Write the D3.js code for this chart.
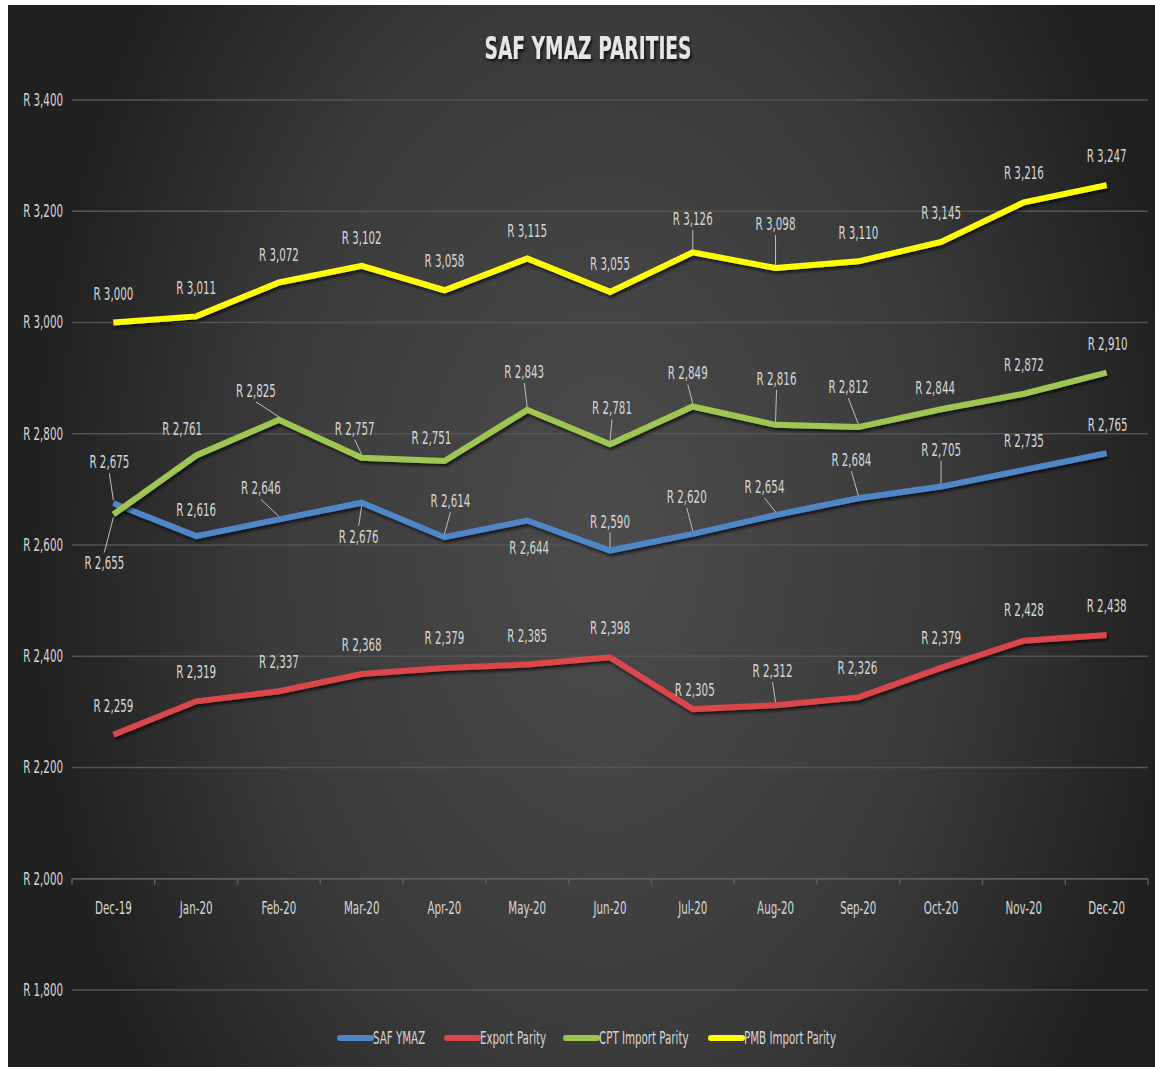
<!DOCTYPE html>
<html>
<head>
<meta charset="utf-8">
<script src="https://cdn.jsdelivr.net/npm/d3@7"></script>
<style>
  html, body { margin: 0; padding: 0; background: #ffffff; }
  svg { display: block; }
  text { font-family: "Liberation Sans Narrow", "Arial Narrow", "DejaVu Sans Condensed", "Roboto Condensed", sans-serif; }
</style>
</head>
<body>
<svg id="chart" width="1155" height="1070"></svg>
<script>
// ---------- DATA ----------
const categories = ["Dec-19","Jan-20","Feb-20","Mar-20","Apr-20","May-20","Jun-20","Jul-20","Aug-20","Sep-20","Oct-20","Nov-20","Dec-20"];
const safYmaz      = [2675, 2616, 2646, 2676, 2614, 2644, 2590, 2620, 2654, 2684, 2705, 2735, 2765];
const exportParity = [2259, 2319, 2337, 2368, 2379, 2385, 2398, 2305, 2312, 2326, 2379, 2428, 2438];
const cptImport    = [2655, 2761, 2825, 2757, 2751, 2843, 2781, 2849, 2816, 2812, 2844, 2872, 2910];
const pmbImport    = [3000, 3011, 3072, 3102, 3058, 3115, 3055, 3126, 3098, 3110, 3145, 3216, 3247];
const seriesNames  = ["SAF YMAZ", "Export Parity", "CPT Import Parity", "PMB Import Parity"];
const yTicks       = [1800, 2000, 2200, 2400, 2600, 2800, 3000, 3200, 3400];
const title        = "SAF YMAZ PARITIES";

// ---------- STYLE / LAYOUT (not data) ----------
const colors = ["#4f86c6", "#d9464c", "#9fc553", "#ffff00"];
// label nudges relative to point [dx, dy, leader?]
const labelNudge = [
  [[-4,-41,1],[0,-26,0],[-18,-31,1],[-3,34,1],[6,-36,1],[2,27,0],[0,-29,1],[-6,-37,1],[-11,-28,1],[-7,-38,1],[0,-37,1],[0,-29,0],[1,-28,0]],
  [[0,-29,0],[0,-29,0],[0,-29,0],[0,-29,0],[0,-30,0],[0,-29,0],[0,-29,0],[2,-19,0],[-3,-34,1],[-1,-29,0],[0,-30,0],[0,-31,0],[0,-29,0]],
  [[-9,49,1],[-14,-26,0],[-23,-29,1],[-7,-29,1],[-13,-23,0],[-3,-38,1],[2,-36,1],[-5,-33,1],[1,-46,1],[-10,-40,1],[-6,-21,0],[0,-29,0],[1,-29,0]],
  [[0,-28,0],[0,-28,0],[0,-27,0],[0,-28,0],[0,-29,0],[0,-28,0],[0,-28,0],[0,-33,1],[0,-44,1],[0,-28,0],[0,-29,0],[0,-29,0],[0,-29,0]]
];

const svg = d3.select("#chart");
const defs = svg.append("defs");
const grad = defs.append("radialGradient").attr("id", "bg")
  .attr("cx", 0.52).attr("cy", 0.5).attr("r", 0.5)
  .attr("gradientTransform", "translate(0.52,0.5) scale(1,1.7) translate(-0.52,-0.5)");
grad.append("stop").attr("offset", 0).attr("stop-color", "#4c4c4c");
grad.append("stop").attr("offset", 0.6).attr("stop-color", "#3a3a3a");
grad.append("stop").attr("offset", 1).attr("stop-color", "#202020");

const sh = defs.append("filter").attr("id", "shadow").attr("x", "-10%").attr("y", "-20%").attr("width", "120%").attr("height", "160%");
sh.append("feDropShadow").attr("dx", 1.5).attr("dy", 2.5).attr("stdDeviation", 1.5).attr("flood-color", "#000").attr("flood-opacity", 0.7);

svg.append("rect").attr("x", 8).attr("y", 5).attr("width", 1147).attr("height", 1062).attr("fill", "url(#bg)");

const x = d3.scalePoint().domain(categories).range([72, 1148]).padding(0.5);
const y = d3.scaleLinear().domain([1800, 3400]).range([990, 100]);

const fmt = v => "R " + d3.format(",")(v);
const textColor = "#d6d6d6";

function stretchedText(g, tx, ty, str, size, anchor, weight, sx, sy) {
  return g.append("text")
    .attr("transform", `translate(${tx},${ty}) scale(${sx || 0.88},${sy || 1.4})`)
    .attr("text-anchor", anchor)
    .attr("dominant-baseline", "central")
    .attr("font-size", size)
    .attr("font-weight", weight || "normal")
    .attr("fill", textColor)
    .text(str);
}

// title
const tg = svg.append("g").attr("filter", "url(#shadow)");
stretchedText(tg, 588, 48, title, 25, "middle", "bold", 0.83, 1.3).attr("fill", "#e6e6e6");

// gridlines
const grid = svg.append("g");
grid.selectAll("line").data(yTicks).join("line")
  .attr("x1", 72).attr("x2", 1148)
  .attr("y1", d => y(d)).attr("y2", d => y(d))
  .attr("stroke", "#555555").attr("stroke-width", 1.5);

// y tick labels
const yl = svg.append("g");
yTicks.forEach(t => stretchedText(yl, 63, y(t), fmt(t), 13, "end"));

// x axis at 2000 with category ticks
const xAxisG = svg.append("g").attr("transform", `translate(0,${y(2000)})`);
const bounds = d3.range(categories.length + 1).map(i => 72 + i * x.step());
xAxisG.append("line").attr("x1", 72).attr("x2", 1148).attr("y1", 0).attr("y2", 0)
  .attr("stroke", "#5e5e5e").attr("stroke-width", 1.5);
xAxisG.selectAll("line.tick").data(bounds).join("line").attr("class", "tick")
  .attr("x1", d => d).attr("x2", d => d).attr("y1", 0).attr("y2", 6)
  .attr("stroke", "#5e5e5e").attr("stroke-width", 1.5);
const xl = svg.append("g");
categories.forEach(c => stretchedText(xl, x(c), 908, c, 13, "middle"));

// lines
const allSeries = [safYmaz, exportParity, cptImport, pmbImport];
const line = d3.line().x((d, i) => x(categories[i])).y(d => y(d));
const linesG = svg.append("g");
const drawOrder = [1, 0, 2, 3];
drawOrder.forEach(s => {
  linesG.append("path").datum(allSeries[s])
    .attr("d", line)
    .attr("fill", "none")
    .attr("stroke", colors[s])
    .attr("stroke-width", 6)
    .attr("stroke-linejoin", "miter")
    .attr("filter", "url(#shadow)");
});

// data labels with leader lines
const labG = svg.append("g");
allSeries.forEach((vals, s) => {
  vals.forEach((v, i) => {
    const px = x(categories[i]), py = y(v);
    const [dx, dy, lead] = labelNudge[s][i];
    const lx = px + dx, ly = py + dy;
    if (lead) {
      const above = dy < 0;
      labG.append("line")
        .attr("x1", lx).attr("y1", above ? ly + 11 : ly - 11)
        .attr("x2", px).attr("y2", above ? py - 3 : py + 3)
        .attr("stroke", "#bfbfbf").attr("stroke-width", 1);
    }
    stretchedText(labG, lx, ly, fmt(v), 13, "middle");
  });
});

// legend
const legendItems = [
  { name: seriesNames[0], x0: 340, c: colors[0] },
  { name: seriesNames[1], x0: 447, c: colors[1] },
  { name: seriesNames[2], x0: 566, c: colors[2] },
  { name: seriesNames[3], x0: 711, c: colors[3] }
];
const lg = svg.append("g");
legendItems.forEach(it => {
  lg.append("line").attr("x1", it.x0).attr("x2", it.x0 + 31).attr("y1", 1038).attr("y2", 1038)
    .attr("stroke", it.c).attr("stroke-width", 6).attr("stroke-linecap", "round");
  stretchedText(lg, it.x0 + 33, 1038, it.name, 13, "start");
});
</script>
</body>
</html>
